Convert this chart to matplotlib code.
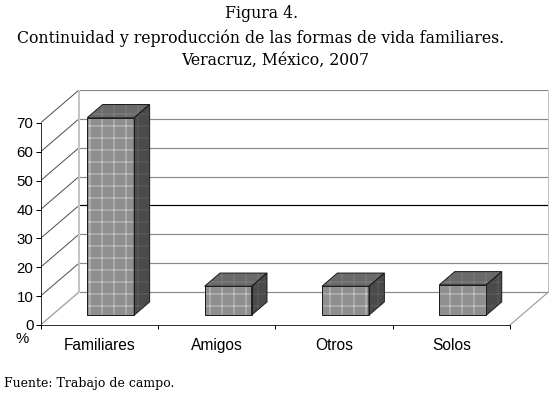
import matplotlib.pyplot as plt
from matplotlib.patches import Polygon

# data
categories = ['Familiares', 'Amigos', 'Otros', 'Solos']
values = [68.4, 10.0, 10.0, 10.5]
yticks = [0, 10, 20, 30, 40, 50, 60, 70]

plt.rcParams['hatch.linewidth'] = 1.0

W, H = 554, 395
fig = plt.figure(figsize=(W / 72, H / 72), dpi=72)
fig.patch.set_facecolor('white')

# plot area in pixels (front axis left/bottom, back wall right/top)
left, right, bottom, top = 40.5, 548.5, 325, 90
ax = fig.add_axes([left / W, 1 - bottom / H, (right - left) / W, (bottom - top) / H])

# depth of the fake 3d box in data units
DX = 0.328
DY = 11.43
x0, x1 = -0.5, len(categories) - 0.5
ax.set_xlim(x0, x1 + DX)
ax.set_ylim(0, yticks[-1] + DY)

grid = '#8a8a8a'
edge = '#c4c4c4'
# back wall grid, side wall diagonals
for v in yticks:
    c = 'black' if v == 30 else grid
    ax.plot([x0 + DX, x1 + DX], [v + DY, v + DY], color=c, lw=1.2, zorder=1)
    if v == 0:
        ax.plot([x0, x0 + DX], [v, v + DY], color='#aaaaaa', lw=1.5, zorder=1)
    else:
        ax.plot([x0, x0 + DX], [v, v + DY], color='#505050', lw=1, zorder=1)
ax.plot([x0 + DX, x0 + DX], [DY, yticks[-1] + DY], color=edge, lw=2, zorder=1)
ax.plot([x1 + DX, x1 + DX], [DY, yticks[-1] + DY], color=edge, lw=2, zorder=1)
ax.plot([x1, x1 + DX], [0, DY], color='#a0a0a0', lw=1.2, zorder=1)

# bars
bw = 0.4      # bar width (category units)
f0 = 0.3      # front face depth fraction
d = 0.4       # bar depth fraction


def face(pts, fc, hc):
    ax.add_patch(Polygon(pts, closed=True, facecolor=fc, edgecolor=hc,
                         hatch='+', lw=0, zorder=3))
    ax.add_patch(Polygon(pts, closed=True, fill=False, edgecolor='#1e1e1e',
                         lw=1, zorder=4))


for i, v in enumerate(values):
    bx = i - bw / 2 + f0 * DX
    by = f0 * DY
    ox, oy = d * DX, d * DY
    front = [(bx, by), (bx + bw, by), (bx + bw, by + v), (bx, by + v)]
    side = [(bx + bw, by), (bx + bw + ox, by + oy), (bx + bw + ox, by + v + oy), (bx + bw, by + v)]
    topf = [(bx, by + v), (bx + bw, by + v), (bx + bw + ox, by + v + oy), (bx + ox, by + v + oy)]
    face(side, '#4a4a4a', '#5f5f5f')
    face(topf, '#6a6a6a', '#808080')
    face(front, '#8f8f8f', '#c4c4c4')

# axes
for s in ['top', 'right']:
    ax.spines[s].set_visible(False)
ax.spines['left'].set_bounds(0, yticks[-1])
ax.spines['bottom'].set_bounds(x0, x1)
ax.set_yticks(yticks)
ax.tick_params(axis='y', direction='out', length=5, width=1, pad=2, labelsize=15)
ax.set_xticks(range(len(categories)))
ax.set_xticklabels(categories)
ax.set_xticks([x0 + k for k in range(len(categories) + 1)], minor=True)
ax.tick_params(axis='x', which='major', length=0, pad=13, labelsize=15.5)
ax.tick_params(axis='x', which='minor', direction='out', length=4, width=1)
for lab in ax.get_xticklabels() + ax.get_yticklabels():
    lab.set_family('Liberation Sans')
ax.patch.set_alpha(0)

fig.text(22 / W, 1 - 339 / H, '%', fontsize=15, family='Liberation Sans', ha='center', va='center')

# titles
serif = 'DejaVu Serif'
fig.text(262 / W, 1 - 14 / H, 'Figura 4.', fontsize=15.8, family=serif, ha='center', va='center')
fig.text(261 / W, 1 - 38 / H, 'Continuidad y reproducción de las formas de vida familiares.',
         fontsize=15.8, family=serif, ha='center', va='center')
fig.text(275 / W, 1 - 60 / H, 'Veracruz, México, 2007', fontsize=15.8, family=serif,
         ha='center', va='center')
fig.text(4 / W, 1 - 383 / H, 'Fuente: Trabajo de campo.', fontsize=12.5, family=serif,
         ha='left', va='center')

fig.savefig('out.png', dpi=72)
